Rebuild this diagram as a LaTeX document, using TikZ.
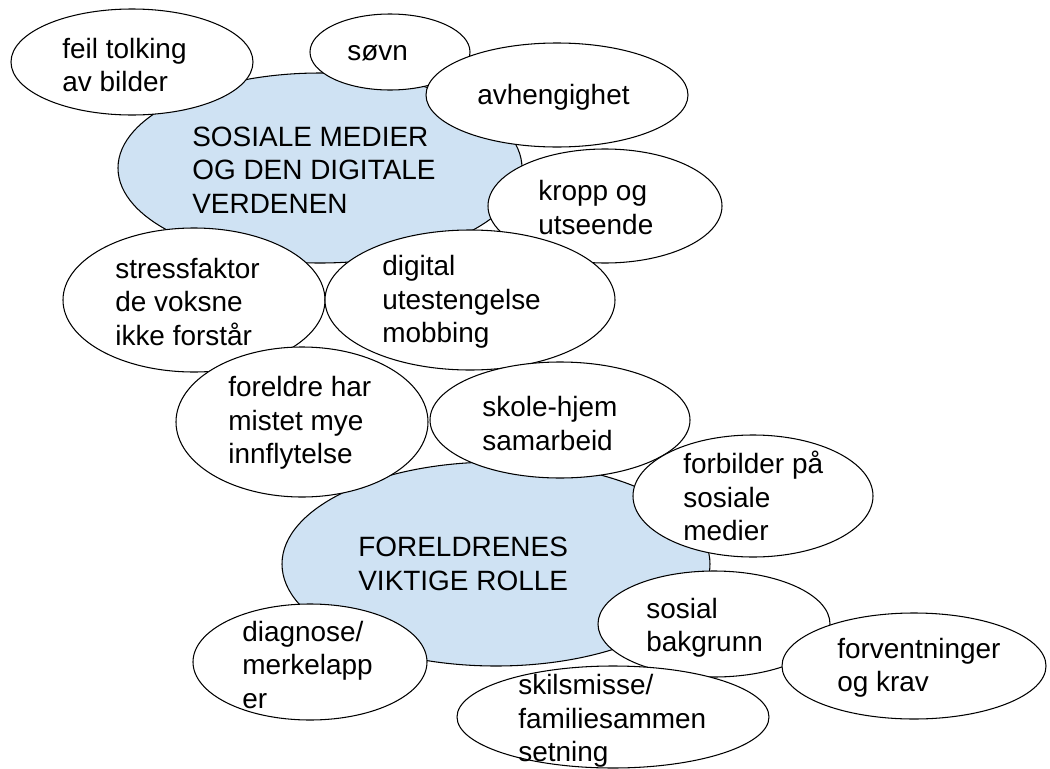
\documentclass[tikz,border=0pt]{standalone}
\usepackage{fontspec}
\setmainfont{Liberation Sans}
\usetikzlibrary{shapes.geometric}
\definecolor{lightblue}{RGB}{207,226,243}

\begin{document}
\begin{tikzpicture}[
  bubble/.style={draw=black, line width=0.6pt, fill=white, ellipse, inner sep=0pt},
  hub/.style={bubble, fill=lightblue},
  txt/.style={anchor=west, align=left, inner sep=0pt, font=\fontsize{15.9}{19}\selectfont}]
\useasboundingbox (0,0) rectangle (21,-15.38);

% top cluster
\node[hub, minimum width=8.08cm, minimum height=3.80cm] (medier) at (6.40,-3.36) {};
\node[txt] (medier-t) at (3.84,-3.40) {SOSIALE MEDIER\\OG DEN DIGITALE\\VERDENEN};

\node[bubble, minimum width=4.84cm, minimum height=2.12cm] (tolking) at (2.64,-1.24) {};
\node[txt] (tolking-t) at (1.24,-1.30) {feil tolking\\av bilder};

\node[bubble, minimum width=3.20cm, minimum height=1.52cm] (sovn) at (7.80,-1.04) {};
\node[txt] (sovn-t) at (6.94,-1.06) {søvn};

\node[bubble, minimum width=5.24cm, minimum height=2.08cm] (avheng) at (11.14,-1.90) {};
\node[txt] (avheng-t) at (9.54,-1.94) {avhengighet};

\node[bubble, minimum width=4.68cm, minimum height=2.28cm] (kropp) at (12.10,-4.12) {};
\node[txt] (kropp-t) at (10.76,-4.15) {kropp og\\utseende};

\node[bubble, minimum width=5.24cm, minimum height=2.88cm] (stress) at (3.88,-6.00) {};
\node[txt] (stress-t) at (2.30,-6.04) {stressfaktor\\de voksne\\ikke forstår};

\node[bubble, minimum width=5.80cm, minimum height=2.80cm] (digital) at (9.40,-6.00) {};
\node[txt] (digital-t) at (7.64,-6.04) {digital\\utestengelse\\mobbing};

% bottom cluster
\node[hub, minimum width=8.56cm, minimum height=4.08cm] (rolle) at (9.92,-11.28) {};
\node[txt] (rolle-t) at (7.16,-11.28) {FORELDRENES\\VIKTIGE ROLLE};

\node[bubble, minimum width=5.04cm, minimum height=3.00cm] (foreldre) at (6.04,-8.44) {};
\node[txt] (foreldre-t) at (4.56,-8.46) {foreldre har\\mistet mye\\innflytelse};

\node[bubble, minimum width=5.20cm, minimum height=2.32cm] (skole) at (11.20,-8.40) {};
\node[txt] (skole-t) at (9.64,-8.47) {skole-hjem\\samarbeid};

\node[bubble, minimum width=4.80cm, minimum height=2.44cm] (forbilder) at (15.06,-9.92) {};
\node[txt] (forbilder-t) at (13.66,-9.92) {forbilder på\\sosiale\\medier};

\node[bubble, minimum width=4.68cm, minimum height=2.32cm] (diagnose) at (6.20,-13.24) {};
\node[txt] (diagnose-t) at (4.84,-13.30) {diagnose/\\merkelapp\\er};

\node[bubble, minimum width=4.64cm, minimum height=2.12cm] (bakgrunn) at (14.28,-12.48) {};
\node[txt] (bakgrunn-t) at (12.92,-12.56) {sosial\\bakgrunn};

\node[bubble, minimum width=6.24cm, minimum height=2.04cm] (skilsmisse) at (12.26,-14.34) {};
\node[txt] (skilsmisse-t) at (10.36,-14.42) {skilsmisse/\\familiesammen\\setning};

\node[bubble, minimum width=5.28cm, minimum height=2.12cm] (krav) at (18.28,-13.32) {};
\node[txt] (krav-t) at (16.74,-13.35) {forventninger\\og krav};
\end{tikzpicture}
\end{document}
